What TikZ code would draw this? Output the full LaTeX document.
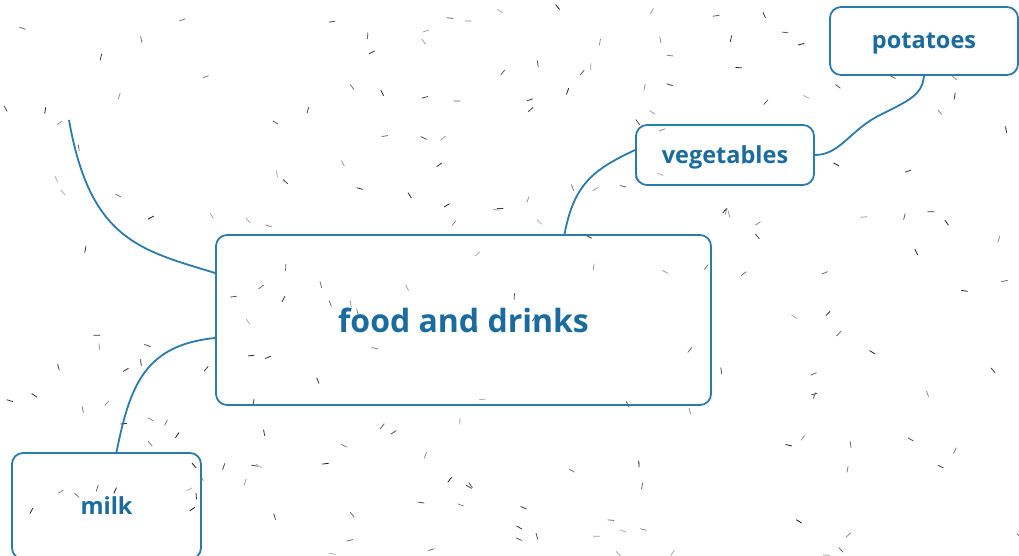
\documentclass[tikz,border=0pt]{standalone}
\usepackage{fontspec}
\newfontfamily\osans{Open Sans}
\usetikzlibrary{calc}
\definecolor{boxblue}{HTML}{2B7BAD}
\definecolor{txtblue}{HTML}{1B6C9E}
\tikzset{
  topic/.style={draw=boxblue, line width=1.8pt, rounded corners=11pt, inner sep=0pt, font=\osans\bfseries\fontsize{23.5}{28}\selectfont, text=txtblue},
  xcenter/.style={text depth=0pt},
  link/.style={draw=boxblue, line width=1.8pt},
  speck/.style={line width=0.8pt, line cap=round}
}
\begin{document}
\begin{tikzpicture}[x=1pt,y=-1pt]
\useasboundingbox (0,0) rectangle (1019,556);
\fill[white] (0,0) rectangle (1019,556);
% background specks
\pgfmathsetseed{7}
\foreach \i in {1,...,210}{
  \pgfmathsetmacro\rx{rnd*1019}
  \pgfmathsetmacro\ry{rnd*556}
  \pgfmathsetmacro\ang{rnd*180}
  \pgfmathsetmacro\gr{30+rnd*60}
  \draw[speck, black!\gr] (\rx,\ry) -- ++(\ang:6);
}
% nodes
\node[topic, xcenter, minimum width=188pt, minimum height=68pt] (potatoes) at (924,41) {potatoes};
\node[topic, xcenter, minimum width=178pt, minimum height=60pt] (vegetables) at (725,155) {vegetables};
\node[topic, minimum width=495pt, minimum height=170pt, font=\osans\bfseries\fontsize{32}{38}\selectfont] (food) at (463.5,320) {food and drinks};
\node[topic, minimum width=189pt, minimum height=106pt] (milk) at (106.5,506) {milk};
\coordinate (free) at (69,120);
% connectors
\draw[link] ([xshift=101pt]food.north) .. controls (574,185) and (592,170) .. ([yshift=5pt]vegetables.west);
\draw[link] (vegetables.east) .. controls (840,155) and (850,130) .. (880,115) .. controls (910,100) and (922,95) .. (potatoes.south);
\draw[link] ([yshift=47pt]food.west) .. controls (140,250) and (90,240) .. (free);
\draw[link] ([yshift=-18pt]food.west) .. controls (145,345) and (130,385) .. ([xshift=10pt]milk.north);
\end{tikzpicture}
\end{document}
